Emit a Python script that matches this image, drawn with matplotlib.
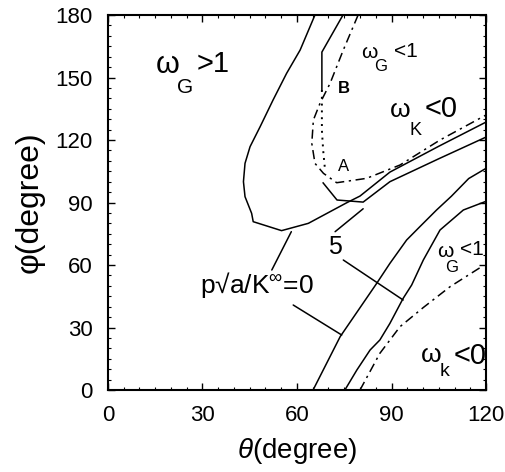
import numpy as np
import matplotlib.pyplot as plt
from matplotlib.ticker import MultipleLocator

plt.rcParams['font.family'] = ['Liberation Sans', 'DejaVu Sans']
plt.rcParams['mathtext.fontset'] = 'custom'
plt.rcParams['mathtext.rm'] = 'Liberation Sans'
plt.rcParams['mathtext.it'] = 'Liberation Sans:italic'

# p*sqrt(a)/K = 0, upper loop branch (theta, phi)
p0_loop_theta = [65.7, 61.0, 56.7, 52.4, 48.3, 45.1, 43.5, 43.0, 43.5, 45.6, 46.1, 55.1, 63.6, 75.8, 80.0, 89.5, 105.0, 120.0]
p0_loop_phi = [180.0, 163.2, 152.0, 139.2, 126.4, 116.8, 108.8, 100.0, 92.8, 84.8, 80.8, 76.5, 80.0, 89.9, 93.1, 104.6, 117.0, 128.6]

# p*sqrt(a)/K = 0, lower branch
p0_low_theta = [65.1, 73.7, 79.5, 85.3, 89.5, 94.8, 99.0, 104.3, 109.0, 114.5, 120.0]
p0_low_phi = [0.0, 25.6, 38.4, 51.2, 60.8, 72.0, 78.4, 86.4, 93.0, 101.5, 106.4]

# p*sqrt(a)/K = 5, upper branch: solid top, dotted middle, solid bottom
p5_top_theta = [74.6, 67.9, 67.9]
p5_top_phi = [180.0, 162.2, 144.0]
p5_dot_theta = [67.9, 67.9, 67.9, 68.3, 68.9]
p5_dot_phi = [144.0, 134.4, 124.8, 115.2, 105.6]
p5_bot_theta = [68.3, 72.7, 81.0, 89.5, 105.0, 120.0]
p5_bot_phi = [99.4, 91.2, 90.2, 100.0, 111.0, 121.4]

# p*sqrt(a)/K = 5, lower branch
p5_low_theta = [75.2, 79.0, 83.2, 86.3, 89.5, 93.7, 96.4, 100.1, 105.4, 112.8, 119.7, 120.0]
p5_low_phi = [0.0, 9.6, 19.2, 24.0, 32.0, 44.0, 50.4, 62.4, 76.8, 86.4, 90.4, 90.4]

# omega boundary, upper (dash-dot)
wk_up_theta = [79.4, 74.7, 70.5, 67.3, 65.2, 64.7, 65.7, 68.4, 72.6, 82.1, 92.7, 105.4, 120.0]
wk_up_phi = [180.0, 163.2, 147.2, 137.6, 129.6, 118.4, 108.8, 104.0, 99.5, 101.6, 108.0, 120.0, 132.0]

# omega boundary, lower (dashed)
wg_low_theta = [80.0, 86.3, 92.7, 100.1, 108.6, 118.6]
wg_low_phi = [0.0, 17.6, 30.4, 39.6, 49.6, 59.2]

fig = plt.figure(figsize=(5.06, 4.72), dpi=100)
ax = fig.add_axes([0.2134, 0.1737, 0.7471, 0.7945])

lw = 1.1
ax.plot(p0_loop_theta, p0_loop_phi, color='black', lw=lw)
ax.plot(p0_low_theta, p0_low_phi, color='black', lw=lw)
ax.plot(p5_top_theta, p5_top_phi, color='black', lw=lw)
ax.plot(p5_dot_theta, p5_dot_phi, color='black', lw=1.4, linestyle=(0, (1, 2.5)))
ax.plot(p5_bot_theta, p5_bot_phi, color='black', lw=lw)
ax.plot(p5_low_theta, p5_low_phi, color='black', lw=lw)
ax.plot(wk_up_theta, wk_up_phi, color='black', lw=lw, linestyle=(0, (6, 3, 1.5, 3)))
ax.plot(wg_low_theta, wg_low_phi, color='black', lw=lw, linestyle=(0, (6, 3, 1.5, 3)))

# leader lines for the contour labels
line = dict(arrowstyle='-', color='black', lw=1.1, shrinkA=0, shrinkB=0)
ax.annotate('', xy=(58.2, 76.0), xytext=(52.0, 57.6), arrowprops=line)
ax.annotate('', xy=(74.2, 26.4), xytext=(58.8, 40.8), arrowprops=line)
ax.annotate('', xy=(81.0, 87.0), xytext=(72.1, 76.0), arrowprops=line)
ax.annotate('', xy=(93.7, 43.2), xytext=(74.7, 62.4), arrowprops=line)

# region labels
ax.text(19.0, 156.0, 'ω', fontsize=22, ha='center', va='center')
ax.text(24.4, 145.4, 'G', fontsize=15, ha='center', va='center')
ax.text(33.3, 156.5, '>1', fontsize=21, ha='center', va='center')

ax.text(82.9, 162.2, 'ω', fontsize=15, ha='center', va='center')
ax.text(86.7, 155.5, 'G', fontsize=12, ha='center', va='center')
ax.text(94.6, 162.5, '<1', fontsize=15, ha='center', va='center')

ax.text(92.7, 134.4, 'ω', fontsize=19, ha='center', va='center')
ax.text(97.5, 124.8, 'K', fontsize=13, ha='center', va='center')
ax.text(105.6, 135.0, '<0', fontsize=21, ha='center', va='center')

ax.text(74.9, 144.5, 'B', fontsize=12, fontweight='bold', ha='center', va='center')
ax.text(74.9, 107.5, 'A', fontsize=12, ha='center', va='center')

ax.text(72.0, 68.6, '5', fontsize=18, ha='center', va='center')
ax.text(47.3, 50.5, 'p√a/K$^{\\infty}$=0', fontsize=19, ha='center', va='center')

ax.text(107.0, 66.7, 'ω', fontsize=15, ha='center', va='center')
ax.text(109.2, 58.6, 'G', fontsize=12, ha='center', va='center')
ax.text(115.6, 67.5, '<1', fontsize=15, ha='center', va='center')

ax.text(102.5, 16.8, 'ω', fontsize=19, ha='center', va='center')
ax.text(106.7, 9.1, 'k', fontsize=14, ha='center', va='center')
ax.text(115.0, 16.3, '<0', fontsize=21, ha='center', va='center')

ax.set_xlim(0, 120)
ax.set_ylim(0, 180)
ax.set_xticks([0, 30, 60, 90, 120])
ax.set_yticks([0, 30, 60, 90, 120, 150, 180])
ax.xaxis.set_minor_locator(MultipleLocator(5))
ax.yaxis.set_minor_locator(MultipleLocator(5))
ax.tick_params(which='major', direction='in', length=5, width=1.0, labelsize=16, pad=11,
               top=True, right=True)
ax.tick_params(which='minor', direction='in', length=2.5, width=0.8, top=True, right=True)
for s in ax.spines.values():
    s.set_linewidth(1.5)

ax.set_xlabel(r'$\theta$(degree)', fontsize=20, labelpad=7)
ax.set_ylabel('φ(degree)', fontsize=23, labelpad=8)

plt.savefig('out.png', dpi=100)
